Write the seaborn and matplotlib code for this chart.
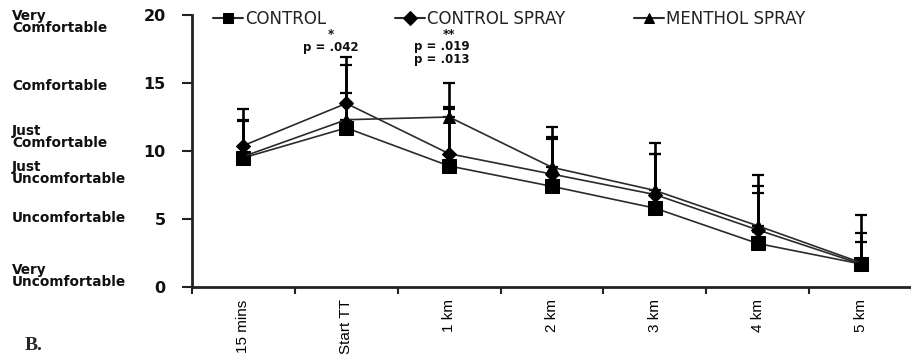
import numpy as np
import pandas as pd
import matplotlib
matplotlib.use("Agg")
import matplotlib.pyplot as plt
import matplotlib.transforms as mtransforms
import seaborn as sns

# ---------------- data ----------------
categories = ["15 mins", "Start TT", "1 km", "2 km", "3 km", "4 km", "5 km"]
series_names = ["CONTROL", "CONTROL SPRAY", "MENTHOL SPRAY"]
control = [9.5, 11.7, 8.9, 7.4, 5.8, 3.2, 1.7]
control_spray = [10.4, 13.5, 9.8, 8.3, 6.8, 4.2, 1.7]
menthol_spray = [9.6, 12.3, 12.5, 8.8, 7.1, 4.5, 1.8]
control_sd = [2.8, 2.6, 4.2, 3.5, 4.0, 3.7, 3.6]
control_spray_sd = [2.7, 3.4, 3.4, 2.7, 3.8, 4.0, 2.3]
menthol_spray_sd = [2.6, 4.0, 2.5, 3.0, 2.7, 2.9, 1.5]
y_ticks = [0, 5, 10, 15, 20]
comfort_labels = ["Very\nComfortable", "Comfortable", "Just\nComfortable",
                  "Just\nUncomfortable", "Uncomfortable", "Very\nUncomfortable"]
comfort_levels = [19.5, 14.8, 11.0, 8.4, 5.1, 0.8]
annot_texts = ["*", "p = .042", "**", "p = .019\np = .013"]
annot_x = [0.85, 0.85, 2.0, 1.93]
annot_y = [18.6, 17.6, 18.6, 17.2]

values = [control, control_spray, menthol_spray]
sds = [control_sd, control_spray_sd, menthol_spray_sd]
markers = {"CONTROL": "s", "CONTROL SPRAY": "D", "MENTHOL SPRAY": "^"}

x_pos = np.arange(len(categories))
df = pd.DataFrame({
    "x": np.tile(x_pos, len(series_names)),
    "score": np.concatenate(values),
    "group": np.repeat(series_names, len(categories)),
})

sns.set_theme(style="ticks")
plt.rcParams["font.family"] = ["DejaVu Sans"]

fig = plt.figure(figsize=(9.12, 3.56), dpi=100)
ax = fig.add_axes([192 / 912, 1 - 287 / 356, (912 - 192) / 912, (287 - 15) / 356])

# error bars (upper only)
for name, v, s in zip(series_names, values, sds):
    ax.errorbar(x_pos, v, yerr=[np.zeros(len(v)), s], fmt="none",
                ecolor="black", elinewidth=1.9, capsize=4.5, capthick=1.6, zorder=2)

sns.lineplot(data=df, x="x", y="score", hue="group", style="group",
             palette={n: "#2b2b2b" for n in series_names},
             markers=markers, dashes=False, linewidth=1.2,
             markeredgecolor="black", ax=ax, zorder=3)
for line in ax.lines:
    m = line.get_marker()
    if m == "s":
        line.set_markersize(9.5)
    elif m == "D":
        line.set_markersize(7)
    elif m == "^":
        line.set_markersize(8.5)
    line.set_markerfacecolor("black")
    line.set_markeredgecolor("black")

handles, labels = ax.get_legend_handles_labels()
for h in handles:
    h.set_color("#2b2b2b")
    h.set_markerfacecolor("black")
    h.set_markeredgecolor("black")
    h.set_linewidth(1.5)
    h.set_markersize(7)
leg = ax.legend(handles, labels, ncol=3, loc="upper left",
                bbox_to_anchor=((213 - 192) / 720, 1.018), frameon=False,
                handlelength=1.8, handletextpad=0.1, columnspacing=4.15,
                borderpad=0, borderaxespad=0, prop={"size": 12, "family": "DejaVu Sans"})
for t in leg.get_texts():
    t.set_color("#222222")

# axes styling
ax.set_xlim(-0.5, len(categories) - 0.5)
ax.set_ylim(0, 20)
ax.set_yticks(y_ticks)
ax.set_yticklabels([str(t) for t in y_ticks], fontsize=11.5, fontweight="bold", color="#111")
ax.set_xticks(x_pos)
ax.set_xticklabels(categories, rotation=90, fontsize=11,
                   family=["Liberation Sans", "DejaVu Sans"], color="#000", va="top")
ax.set_xticks(np.arange(len(categories) + 1) - 0.5, minor=True)
ax.tick_params(axis="x", which="major", length=0, pad=9)
ax.tick_params(axis="x", which="minor", length=5, width=1.5, color="#222", direction="out")
ax.tick_params(axis="y", which="major", length=7, width=1.5, color="#222", direction="out", pad=12)
ax.set_xlabel("")
ax.set_ylabel("")
for side in ["top", "right"]:
    ax.spines[side].set_visible(False)
for side in ["left", "bottom"]:
    ax.spines[side].set_linewidth(2.0)
    ax.spines[side].set_color("#222")

# comfort descriptors on the left
trans = mtransforms.blended_transform_factory(fig.transFigure, ax.transData)
for lab, lev in zip(comfort_labels, comfort_levels):
    fig.text(12 / 912, lev, lab, transform=trans, fontsize=9.8, fontweight="bold",
             ha="left", va="center", linespacing=0.8, color="#111")

# significance annotations
for t, xx, yy in zip(annot_texts, annot_x, annot_y):
    ax.text(xx, yy, t, ha="center", va="center", fontsize=8.5, fontweight="bold",
            linespacing=0.95, color="#111")

fig.text(34 / 912, 1 - 346 / 356, "B.", fontsize=14, fontweight="bold",
         family=["Liberation Serif", "DejaVu Serif"], ha="center", va="center")

fig.savefig("out.png", dpi=100)
